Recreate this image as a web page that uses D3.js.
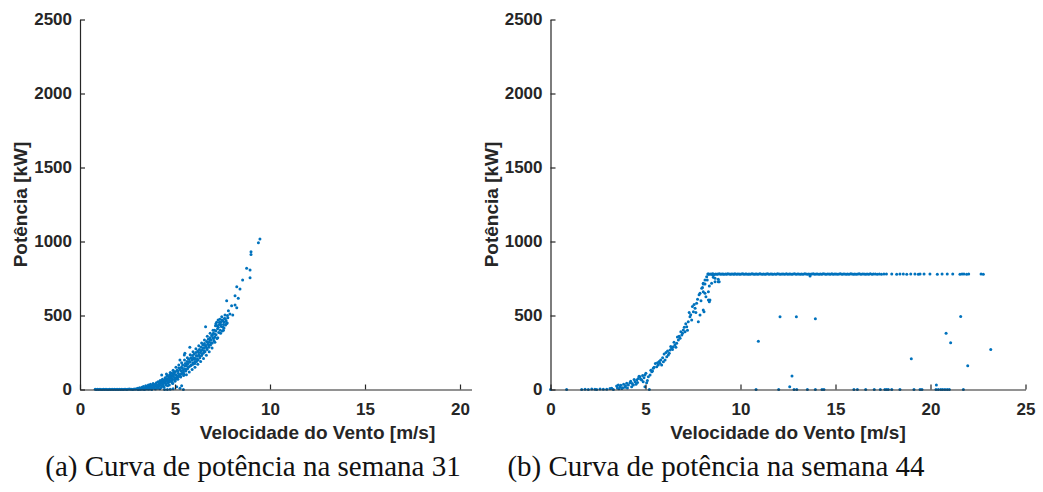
<!DOCTYPE html>
<html>
<head>
<meta charset="utf-8">
<script src="https://cdn.jsdelivr.net/npm/d3@7"></script>
<style>
  html, body { margin: 0; padding: 0; background: #fff; }
  svg { display: block; }
  .tick text { font-family: "Liberation Sans", Arial, sans-serif; font-weight: bold; font-size: 17px; fill: #262626; }
  .axis-title { font-family: "Liberation Sans", Arial, sans-serif; font-weight: bold; font-size: 19px; fill: #262626; }
  .caption { font-family: "Liberation Serif", "Times New Roman", serif; font-size: 29px; fill: #111; }
</style>
</head>
<body>
<svg id="chart" width="1043" height="492"></svg>
<script>
// Axis ticks
const xTicks = [0, 5, 10, 15, 20, 25];
const yTicks = [0, 500, 1000, 1500, 2000, 2500];

// Week 31 readings: [wind speed m/s, power kW]
const week31Points = [
  [0.80,1],[0.86,0],[0.92,1],[0.98,0],[1.05,1],[1.11,0],[1.18,0],[1.24,1],[1.30,0],[1.37,1],[1.43,0],[1.50,0],
  [1.56,1],[1.62,0],[1.69,1],[1.75,0],[1.82,1],[1.88,0],[1.95,1],[2.01,0],[2.08,1],[2.14,0],[2.20,1],[2.27,0],
  [2.33,1],[2.40,2],[2.46,0],[2.52,1],[2.59,3],[2.65,1],[2.72,2],[2.78,0],[2.85,4],[2.91,2],[2.97,5],[3.03,1],
  [3.05,8],[3.10,3],[3.14,12],[3.18,5],[3.22,2],[3.26,15],[3.30,7],[3.34,20],[3.38,4],[3.42,10],[3.46,25],[3.50,14],
  [3.53,3],[3.57,18],[3.60,30],[3.64,9],[3.68,22],[3.71,35],[3.75,12],[3.78,4],[3.82,28],[3.85,40],[3.88,17],[3.92,8],
  [3.95,33],[3.98,24],
  [4.02,45],[4.05,12],[4.08,30],[4.11,52],[4.14,20],[4.17,38],[4.20,5],[4.22,60],[4.25,44],[4.28,27],[4.31,55],[4.34,70],
  [4.37,35],[4.40,62],[4.42,15],[4.45,48],[4.48,80],[4.50,58],[4.53,40],[4.56,72],[4.58,90],[4.61,25],[4.64,65],[4.67,85],
  [4.70,50],[4.72,100],[4.75,78],[4.78,60],[4.80,95],[4.83,110],[4.86,72],[4.88,40],[4.91,88],[4.94,120],[4.96,105],[4.99,80],
  [4.45,0],[4.60,0],[4.75,2],[4.90,5],[5.09,19],[5.26,8],[5.35,25],[5.44,0],[4.30,98],[4.55,105],
  [5.02,120],[5.05,70],[5.08,95],[5.11,130],[5.14,85],[5.17,110],[5.20,145],[5.23,100],[5.26,199],[5.28,90],[5.31,125],[5.34,150],
  [5.37,110],[5.40,165],[5.43,130],[5.46,105],[5.49,233],[5.51,140],[5.54,175],[5.57,125],[5.60,160],[5.63,190],[5.66,140],[5.69,175],
  [5.72,205],[5.75,155],[5.78,285],[5.80,185],[5.83,215],[5.86,165],[5.89,200],[5.92,230],[5.95,180],[5.98,215],[5.52,245],
  [6.01,240],[6.04,175],[6.07,210],[6.10,250],[6.13,190],[6.16,225],[6.19,260],[6.22,200],[6.25,235],[6.28,270],[6.31,215],[6.34,250],
  [6.37,285],[6.40,230],[6.43,265],[6.46,300],[6.49,245],[6.52,280],[6.55,310],[6.58,255],[6.61,424],[6.63,290],[6.66,325],[6.69,270],
  [6.72,305],[6.75,340],[6.78,285],[6.81,320],[6.84,350],[6.87,300],[6.90,335],[6.93,365],[6.96,315],[6.99,350],
  [7.02,380],[7.05,330],[7.08,400],[7.10,355],[7.13,430],[7.16,370],[7.19,455],[7.21,345],[7.24,410],[7.27,470],[7.30,385],[7.33,440],
  [7.36,475],[7.38,400],[7.41,455],[7.44,425],[7.46,492],[7.49,395],[7.52,465],[7.55,440],[7.58,415],[7.60,480],[7.63,503],[7.66,435],
  [7.69,465],[7.72,600],[7.75,450],[7.78,485],[7.81,532],
  [7.89,510],[7.98,566],[8.04,503],[8.16,571],[8.16,634],[8.25,553],[8.25,695],[8.33,616],[8.42,679],[8.56,740],[8.77,819],
  [8.95,807],[8.95,755],[9.00,931],[9.00,913],[9.39,992],[9.47,1017]
];
const week31Band = [
  [3.07,0],[3.16,1],[3.24,6],[3.32,2],[3.40,0],[3.48,5],[3.55,8],[3.62,2],[3.70,13],[3.77,0],[3.84,10],[3.90,21],
  [3.97,3],[4.03,25],[4.09,8],[4.15,28],[4.21,40],[4.27,14],[4.33,47],[4.39,22],[4.44,56],[4.52,30],[4.57,62],[4.63,45],
  [4.68,70],[4.74,55],[4.79,82],[4.85,60],[4.90,98],[4.97,68],
  [5.03,100],[5.09,80],[5.15,125],[5.21,90],[5.27,135],[5.33,105],[5.39,145],[5.45,120],[5.52,160],[5.58,135],[5.64,172],[5.70,150],
  [5.76,190],[5.82,160],[5.88,210],[5.94,170],[6.00,205],[6.06,190],[6.12,230],[6.18,205],[6.24,250],[6.30,225],[6.36,262],[6.42,240],
  [6.48,280],[6.54,262],[6.60,298],[6.66,280],[6.72,320],[6.78,300],[6.85,335],[6.91,315],[6.97,368],[7.03,345],[7.09,375],[7.15,395],
  [7.22,430],[7.28,420],[7.34,455],[7.40,440],[7.47,470],[7.53,420],[7.59,455],[7.65,478],[7.71,445],[7.76,500],
  // upper edge of the band
  [4.60,95],[4.75,115],[4.90,130],[5.05,150],[5.20,165],[5.35,180],[5.50,200],[5.65,215],[5.80,235],[5.95,255],
  [6.10,275],[6.25,295],[6.40,315],[6.55,335],[6.70,360],[6.85,380],[7.00,400],[7.15,445],
  // lower edge of the band
  [4.70,30],[4.85,45],[5.00,55],[5.15,70],[5.30,85],[5.45,95],[5.60,100],[5.75,118],[5.90,135],[6.05,150],
  [6.20,170],[6.35,190],[6.50,210],[6.65,232],[6.80,255],[6.95,280],[7.10,320],[7.25,350],[7.40,380],[7.55,400],
  [3.58,12],[3.74,20],[3.93,30],[4.07,22],[4.19,50],[4.36,42],[4.49,66],[4.62,55]
];

// Week 44 readings: [wind speed m/s, power kW]
const week44Rising = [
  [0.00,0],[0.85,0],[1.64,0],[1.82,2],[1.99,0],[2.17,3],[2.34,1],[2.43,0],[2.61,4],[2.78,2],[2.96,1],[3.13,6],[3.22,9],[3.31,0],
  [3.48,24],[3.57,30],[3.66,19],[3.75,7],[3.92,15],[4.01,42],[4.18,46],[4.27,19],[4.36,30],[4.45,53],[4.54,64],[4.62,75],
  [4.71,86],[4.80,64],[4.88,53],[4.97,98],[5.06,46],[5.15,86],[5.24,98],[4.97,19],[5.20,0],[5.33,120],[5.41,143],[5.59,154],
  [5.67,165],[5.76,177],[5.85,165],[5.94,188],[6.03,199],[6.12,222],[6.20,233],[6.29,267],[6.38,278],[6.46,289],[6.55,300],
  [6.64,312],[6.73,334],[6.82,346],[6.91,368],[6.99,402],[7.08,391],[7.17,424],[7.25,458],[7.34,492],[7.43,470],[7.52,526],
  [7.61,549],[7.69,582],[7.78,458],[7.87,650],[7.96,684],[8.04,718],[8.13,740],[8.22,762],[8.31,780],[8.39,605],[8.48,718],
  [8.66,751],[8.83,728],[8.04,537],[8.08,526],[8.31,605],[8.36,593],[8.13,650],[8.31,661],[8.04,661],[8.18,627],[8.36,699],
  [8.25,740],[8.13,713],[8.04,713],[8.57,758],[8.66,728],[8.83,745],[8.88,728],[8.54,774],[7.87,503],
  [3.52,10],[3.60,5],[3.70,28],[3.80,12],[3.85,35],[3.95,25],[4.05,10],[4.10,30],[4.22,55],[4.30,40],[4.40,68],[4.50,35],
  [4.58,48],[4.66,90],[4.75,70],[4.85,95],[4.92,80],[5.02,110],[5.10,60],[5.28,130],[5.37,125],[5.45,150],[5.52,175],[5.63,180],
  [5.72,190],[5.80,200],[5.90,215],[5.98,240],[6.08,250],[6.16,260],[6.25,245],[6.33,290],[6.42,270],[6.50,320],[6.60,285],
  [6.68,355],[6.77,360],[6.86,390],[6.95,380],[7.04,420],[7.12,445],[7.21,400],[7.30,520],[7.38,505],[7.47,560],[7.56,575],
  [7.65,520],[7.74,610],[7.82,640],[7.92,600],[8.00,690]
];
const week44Rated = [
  [8.28,780],[8.33,778],[8.40,781],[8.46,779],[8.52,782],[8.58,780],[8.63,777],[8.70,781],[8.77,779],[8.82,780],
  [8.89,782],[8.95,778],[9.02,780],[9.08,781],[9.13,779],[9.21,780],[9.27,778],[9.33,782],[9.40,780],[9.47,779],
  [9.52,781],[9.60,780],[9.66,778],[9.71,782],[9.79,779],[9.85,780],[9.92,781],[9.98,778],[10.05,780],[10.12,782],
  [10.18,779],[10.26,780],[10.31,781],[10.39,778],[10.45,780],[10.52,779],[10.60,782],[10.66,780],[10.73,778],[10.80,781],
  [10.86,780],[10.93,779],[11.01,782],[11.07,780],[11.15,778],[11.22,781],[11.30,779],[11.36,780],[11.43,782],[11.50,778],
  [11.58,780],[11.65,781],[11.71,779],[11.80,780],[11.88,778],[11.95,782],[12.03,780],[12.10,779],[12.18,781],[12.25,780],
  [12.33,778],[12.41,782],[12.48,779],[12.56,780],[12.62,781],[12.70,778],[12.77,780],[12.85,782],[12.92,779],[13.00,780],
  [13.07,781],[13.15,778],[13.22,780],[13.30,779],[13.38,782],[13.45,780],[13.53,778],[13.60,781],[13.68,779],[13.75,780],
  [13.83,782],[13.90,778],[13.98,780],[14.05,781],[14.13,779],[14.20,780],[14.28,778],[14.35,782],[14.43,780],[14.50,779],
  [14.58,781],[14.66,780],[14.73,778],[14.81,782],[14.88,779],[14.96,780],[15.03,781],[15.11,778],[15.19,780],[15.26,782],
  [15.34,779],[15.41,780],[15.49,781],[15.57,778],[15.64,780],[15.72,779],[15.80,782],[15.87,780],[15.95,778],[16.02,781],
  [16.10,779],[16.18,780],[16.25,782],[16.33,778],[16.41,780],[16.50,781],[16.58,779],[16.66,780],[16.75,778],[16.83,782],
  [16.92,779],[17.00,780],[17.10,781],[17.20,778],[17.31,780],[17.42,779],[17.55,781],[17.68,780],
  [17.96,780],[18.22,779],[18.39,781],[18.57,780],[18.75,778],[18.96,780],[19.18,781],[19.36,779],[19.45,780],[19.66,781],
  [19.97,780],[20.36,779],[20.61,780],[20.88,781],[21.17,780],[21.55,779],[21.66,781],[21.76,780],[21.90,779],[22.01,780],
  [22.66,780],[22.78,779],[13.66,767]
];
const week44Derated = [
  [10.94,326],[12.08,492],[12.94,492],[13.94,478],[12.71,91],[12.59,19],[18.99,208],[20.82,380],[21.06,316],
  [21.59,494],[21.96,161],[23.17,271],[20.31,30]
];
// Wind speeds logged while the turbine delivered no power
const week44Stopped = [
  10.82,12.01,12.82,12.96,13.52,13.94,14.29,14.39,15.97,16.15,16.59,17.04,17.36,17.60,17.69,17.78,
  17.96,18.39,19.13,19.45,19.55,20.29,20.41,20.54,20.64,20.76,20.88,20.99,21.73
];

const axisColor = "#262626";
const dotColor = "#0072BD";

const svg = d3.select("#chart");
const y = d3.scaleLinear().domain([0, 2500]).range([389.5, 19.5]);

const panels = [
  { id: "w31", points: week31Points.concat(week31Band), x0: 80, clipRight: 472,
    caption: "(a) Curva de potência na semana 31", capX: 253 },
  { id: "w44", points: week44Rising.concat(week44Rated, week44Derated, week44Stopped.map(s => [s, 0])),
    x0: 550.5, clipRight: 1043, caption: "(b) Curva de potência na semana 44", capX: 716 }
];

svg.append("defs").selectAll("clipPath").data(panels).join("clipPath")
  .attr("id", d => "clip-" + d.id)
  .append("rect")
  .attr("x", d => d.x0 - 80).attr("y", 0)
  .attr("width", d => d.clipRight - (d.x0 - 80)).attr("height", 492);

panels.forEach(p => {
  const x = d3.scaleLinear().domain([0, 25]).range([p.x0, p.x0 + 475]);
  const g = svg.append("g").attr("clip-path", `url(#clip-${p.id})`);

  g.append("g").selectAll("circle")
    .data(p.points)
    .join("circle")
    .attr("cx", d => x(d[0]))
    .attr("cy", d => y(d[1]))
    .attr("r", 1.5)
    .attr("fill", dotColor);

  const gx = g.append("g")
    .attr("transform", `translate(0,${y(0)})`)
    .call(d3.axisBottom(x).tickValues(xTicks).tickFormat(d3.format("d"))
      .tickSizeInner(-5).tickSizeOuter(0).tickPadding(13));
  const gy = g.append("g")
    .attr("transform", `translate(${p.x0},0)`)
    .call(d3.axisLeft(y).tickValues(yTicks).tickFormat(d3.format("d"))
      .tickSizeInner(-5).tickSizeOuter(0).tickPadding(8));

  [gx, gy].forEach(a => {
    a.select(".domain").attr("stroke", axisColor).attr("stroke-width", 1.2);
    a.selectAll(".tick line").attr("stroke", axisColor).attr("stroke-width", 1.2);
  });

  g.append("text").attr("class", "axis-title")
    .attr("x", x(12.5)).attr("y", 439)
    .attr("text-anchor", "middle")
    .text("Velocidade do Vento [m/s]");
  g.append("text").attr("class", "axis-title")
    .attr("transform", `translate(${p.x0 - 53},${(y(0) + y(2500)) / 2}) rotate(-90)`)
    .attr("text-anchor", "middle")
    .text("Potência [kW]");

  svg.append("text").attr("class", "caption")
    .attr("x", p.capX).attr("y", 476)
    .attr("text-anchor", "middle")
    .text(p.caption);
});
</script>
</body>
</html>
